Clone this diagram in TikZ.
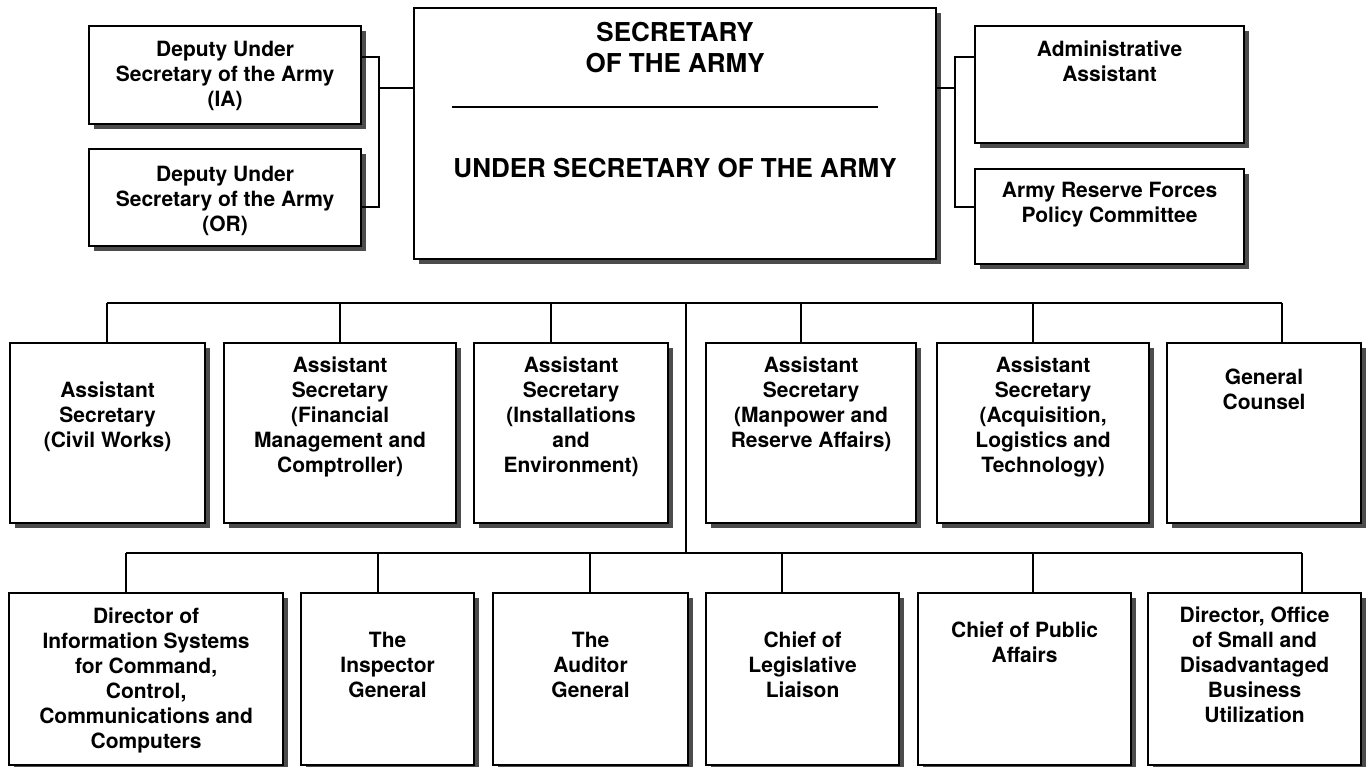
\documentclass[tikz,border=0pt]{standalone}
\usepackage{fontspec}
\setmainfont{TeX Gyre Heros}
\usetikzlibrary{shadows}
\begin{document}
\begin{tikzpicture}[x=1pt,y=-1pt,
  box/.style={draw, line width=2.2pt, fill=white, inner sep=0pt, anchor=north west,
    general shadow={fill=black!70, shadow xshift=5pt, shadow yshift=-5pt}},
  % base anchor of a multi-line label sits on its last line
  lbl/.style={align=center, inner sep=0pt, anchor=base,
    font=\bfseries\fontsize{21}{25}\selectfont},
  big/.style={align=center, inner sep=0pt, anchor=base,
    font=\bfseries\fontsize{26}{31}\selectfont},
  wire/.style={line width=1.8pt}]
\useasboundingbox (0,0) rectangle (1370,767);

% ---- top tier ----
\node[box, minimum width=272pt, minimum height=98pt] (dusia) at (88,25) {};
\node[box, minimum width=272pt, minimum height=97pt] (dusor) at (88,148) {};
\node[box, minimum width=522pt, minimum height=251pt] (sec) at (413,7) {};
\node[box, minimum width=269pt, minimum height=117pt] (aa) at (974,25) {};
\node[box, minimum width=269pt, minimum height=95pt] (arfpc) at (974,168) {};

\node[lbl] (dusia-t) at ([yshift=-82pt]dusia.north) {Deputy Under\\Secretary of the Army\\(IA)};
\node[lbl] (dusor-t) at ([yshift=-84pt]dusor.north) {Deputy Under\\Secretary of the Army\\(OR)};
\node[lbl] (aa-t) at ([yshift=-57pt]aa.north) {Administrative\\Assistant};
\node[lbl] (arfpc-t) at ([yshift=-55pt]arfpc.north) {Army Reserve Forces\\Policy Committee};

\node[big] (sec-t) at ([yshift=-66pt]sec.north) {SECRETARY\\OF THE ARMY};
\node[big] (usec-t) at ([yshift=-171pt]sec.north) {UNDER SECRETARY OF THE ARMY};
\coordinate (divl) at (452,107);
\coordinate (divr) at (878,107);
\draw[line width=2.4pt] (divl) -- (divr);

% side brackets
\coordinate (lbt) at (379,57);
\coordinate (lbm) at (379,88);
\coordinate (lbb) at (379,207);
\draw[wire] (dusia.east |- lbt) -- (lbt) -- (lbb) -- (dusor.east |- lbb);
\draw[wire] (lbm) -- (sec.west |- lbm);
\coordinate (rbt) at (955,57);
\coordinate (rbm) at (955,88);
\coordinate (rbb) at (955,207);
\draw[wire] (aa.west |- rbt) -- (rbt) -- (rbb) -- (arfpc.west |- rbb);
\draw[wire] (rbm) -- (sec.east |- rbm);

% ---- assistant secretaries ----
\node[box, minimum width=195pt, minimum height=180pt] (cw) at (9,342) {};
\node[box, minimum width=232pt, minimum height=180pt] (fm) at (223,342) {};
\node[box, minimum width=194pt, minimum height=180pt] (ie) at (473,342) {};
\node[box, minimum width=210pt, minimum height=180pt] (mra) at (705,342) {};
\node[box, minimum width=212pt, minimum height=180pt] (alt) at (936,342) {};
\node[box, minimum width=194pt, minimum height=180pt] (gc) at (1166,342) {};

\node[lbl] (cw-t) at ([yshift=-105pt]cw.north) {Assistant\\Secretary\\(Civil Works)};
\node[lbl] (fm-t) at ([yshift=-130pt]fm.north) {Assistant\\Secretary\\(Financial\\Management and\\Comptroller)};
\node[lbl] (ie-t) at ([yshift=-130pt]ie.north) {Assistant\\Secretary\\(Installations\\and\\Environment)};
\node[lbl] (mra-t) at ([yshift=-105pt]mra.north) {Assistant\\Secretary\\(Manpower and\\Reserve Affairs)};
\node[lbl] (alt-t) at ([yshift=-130pt]alt.north) {Assistant\\Secretary\\(Acquisition,\\Logistics and\\Technology)};
\node[lbl] (gc-t) at ([yshift=-67pt]gc.north) {General\\Counsel};

\coordinate (b1l) at (107,303);
\coordinate (b1r) at (1282,303);
\draw[wire] (b1l) -- (b1r);
\foreach \x/\n in {107/cw, 340/fm, 551/ie, 801/mra, 1033/alt, 1282/gc}
  \draw[wire] (\x,303) -- (\x,0 |- \n.north);

% ---- staff principals ----
\node[box, minimum width=274pt, minimum height=172pt] (dis) at (8,592) {};
\node[box, minimum width=173pt, minimum height=172pt] (ig) at (300,592) {};
\node[box, minimum width=195pt, minimum height=172pt] (ag) at (492,592) {};
\node[box, minimum width=193pt, minimum height=172pt] (cll) at (705,592) {};
\node[box, minimum width=213pt, minimum height=172pt] (cpa) at (917,592) {};
\node[box, minimum width=213pt, minimum height=172pt] (osdbu) at (1147,592) {};

\node[lbl] (dis-t) at ([yshift=-156pt]dis.north) {Director of\\Information Systems\\for Command,\\Control,\\Communications and\\Computers};
\node[lbl] (ig-t) at ([yshift=-105pt]ig.north) {The\\Inspector\\General};
\node[lbl] (ag-t) at ([yshift=-105pt]ag.north) {The\\Auditor\\General};
\node[lbl] (cll-t) at ([yshift=-105pt]cll.north) {Chief of\\Legislative\\Liaison};
\node[lbl] (cpa-t) at ([yshift=-70pt]cpa.north) {Chief of Public\\Affairs};
\node[lbl] (osdbu-t) at ([yshift=-130pt]osdbu.north) {Director, Office\\of Small and\\Disadvantaged\\Business\\Utilization};

\coordinate (b2l) at (126,553);
\coordinate (b2r) at (1302,553);
\draw[wire] (b2l) -- (b2r);
\coordinate (trunk) at (686,303);
\draw[wire] (trunk) -- (trunk |- b2l);
\foreach \x/\n in {126/dis, 378/ig, 590/ag, 782/cll, 1033/cpa, 1302/osdbu}
  \draw[wire] (\x,553) -- (\x,0 |- \n.north);
\end{tikzpicture}
\end{document}
